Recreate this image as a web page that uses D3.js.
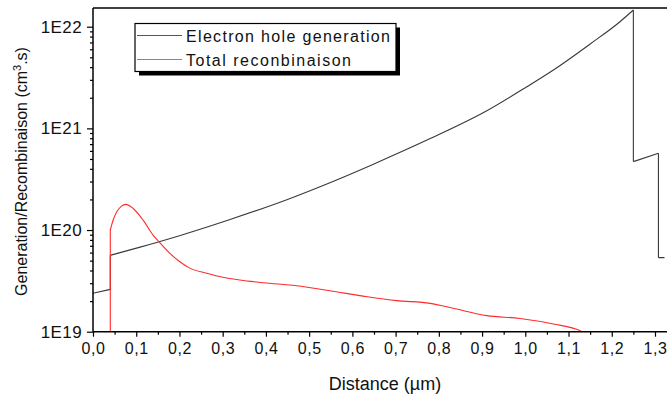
<!DOCTYPE html>
<html><head><meta charset="utf-8">
<script src="https://cdn.jsdelivr.net/npm/d3@7"></script>
<style>html,body{margin:0;padding:0;background:#fff;overflow:hidden}text{font-family:"Liberation Sans",Arial,sans-serif;fill:#111}</style>
</head><body><svg id="c" width="667" height="396"></svg>
<script>
// Data (x in µm, y in cm^-3 s^-1)
const genX = [0, 0.04, 0.04, 0.109, 0.2, 0.317, 0.45, 0.548, 0.65, 0.78, 0.911, 1.0, 1.065, 1.15, 1.219, 1.25, 1.25, 1.308, 1.308, 1.322];
const genY = [2.39e19, 2.61e19, 5.64e19, 6.79e19, 8.80e19, 1.27e20, 2.00e20, 2.92e20, 4.47e20, 7.93e20, 1.49e21, 2.51e21, 3.75e21, 6.76e21, 1.12e22, 1.46e22, 4.71e20, 5.68e20, 5.35e19, 5.35e19];
const recX = [0.04, 0.04, 0.047, 0.055, 0.066, 0.076, 0.093, 0.116, 0.139, 0.151, 0.178, 0.2, 0.224, 0.263, 0.3, 0.34, 0.394, 0.471, 0.548, 0.625, 0.702, 0.78, 0.833, 0.911, 0.988, 1.065, 1.127, 1.14];
const recY = [5e18, 1.0e20, 1.27e20, 1.51e20, 1.72e20, 1.79e20, 1.63e20, 1.25e20, 8.91e19, 7.80e19, 5.89e19, 4.90e19, 4.22e19, 3.76e19, 3.43e19, 3.22e19, 3.03e19, 2.83e19, 2.53e19, 2.24e19, 2.02e19, 1.90e19, 1.70e19, 1.44e19, 1.35e19, 1.19e19, 1.02e19, 9.5e18];
const xTicks = [0,0.1,0.2,0.3,0.4,0.5,0.6,0.7,0.8,0.9,1.0,1.1,1.2,1.3];
const yTicks = [1e19, 1e20, 1e21, 1e22];
const yTickLabels = ["1E19", "1E20", "1E21", "1E22"];
const seriesNames = ["Electron hole generation", "Total reconbinaison"];

const svg = d3.select("#c");
const L = 93, T = 8, B = 331.7, R = 676.6;
const x = d3.scaleLinear().domain([0, 1.35]).range([L, R]);
const y = d3.scaleLog().domain([1e19, Math.pow(10, 22.184)]).range([B, T]);

svg.append("clipPath").attr("id","clip").append("rect").attr("x",L).attr("y",T).attr("width",R-L).attr("height",B-T);

// split into runs of strictly increasing x; vertical jumps drawn straight, runs smoothed
function runs(xs, ys){
  const pts = xs.map((v,i)=>[v,ys[i]]);
  const out = []; let cur = [pts[0]];
  for(let i=1;i<pts.length;i++){
    if(pts[i][0] > cur[cur.length-1][0]) cur.push(pts[i]);
    else { out.push(cur); out.push([cur[cur.length-1], pts[i]]); cur = [pts[i]]; }
  }
  out.push(cur);
  return out;
}
const line = d3.line().x(d=>x(d[0])).y(d=>y(d[1])).curve(d3.curveMonotoneX);
const g = svg.append("g").attr("clip-path","url(#clip)");
g.selectAll(".gen").data(runs(genX,genY)).join("path").attr("d",line).attr("fill","none").attr("stroke","#3a3a3a").attr("stroke-width",1.1);
g.selectAll(".rec").data(runs(recX,recY)).join("path").attr("d",line).attr("fill","none").attr("stroke","#ff2a2a").attr("stroke-width",1.1);

// X axis
const xMinor = d3.range(0.05, 1.36, 0.1);
const xa = svg.append("g").attr("transform",`translate(0,${B})`);
xa.call(d3.axisBottom(x).tickValues(xTicks).tickSize(5).tickPadding(6).tickFormat(d=>d3.format(".1f")(d).replace(".",",")));
xa.selectAll("text").style("font-size","16px").style("letter-spacing","0.6px");
xa.select(".domain").remove();
svg.append("g").attr("transform",`translate(0,${B})`).call(d3.axisBottom(x).tickValues(xMinor).tickSize(3).tickFormat(""))
  .select(".domain").remove();
// Y axis
const yMinor = [];
[19,20,21,22].forEach(e=>{for(let k=2;k<=9;k++){const v=k*Math.pow(10,e); if(v<=y.domain()[1]) yMinor.push(v);}});
const ya = svg.append("g").attr("transform",`translate(${L},0)`);
ya.call(d3.axisLeft(y).tickValues(yTicks).tickSize(6).tickPadding(5).tickFormat((d,i)=>yTickLabels[i]));
ya.selectAll("text").style("font-size","17px").style("letter-spacing","0.4px");
ya.select(".domain").remove();
svg.append("g").attr("transform",`translate(${L},0)`).call(d3.axisLeft(y).tickValues(yMinor).tickSize(3).tickFormat(""))
  .select(".domain").remove();
svg.selectAll(".tick line").attr("stroke","#000").attr("stroke-width",1.2);

// frame lines
[[L,B,R,B],[L,T,R,T],[L,T,L,B],[R,T,R,B]].forEach(s=>
  svg.append("line").attr("x1",s[0]).attr("y1",s[1]).attr("x2",s[2]).attr("y2",s[3]).attr("stroke","#000").attr("stroke-width",1.5));

// Axis titles
svg.append("text").attr("x",385).attr("y",390).attr("text-anchor","middle").style("font-size","18px").text("Distance (µm)");
const yt = svg.append("text").attr("transform",`translate(27,171.5) rotate(-90)`).attr("text-anchor","middle").style("font-size","16px");
yt.append("tspan").text("Generation/Recombinaison (cm");
yt.append("tspan").attr("dy",-6).style("font-size","11px").text("3");
yt.append("tspan").attr("dy",6).text(".s)");

// Legend
const lx = 135, ly = 23.5, lw = 261, lh = 48;
svg.append("rect").attr("x",lx+4).attr("y",ly+4).attr("width",lw).attr("height",lh).attr("fill","#000");
svg.append("rect").attr("x",lx).attr("y",ly).attr("width",lw).attr("height",lh).attr("fill","#fff").attr("stroke","#000").attr("stroke-width",1.2);
const legColors = ["#555", "#ff5555"];
seriesNames.forEach((n,i)=>{
  const yy = ly + 12 + i*24;
  svg.append("line").attr("x1",lx+2).attr("x2",lx+47).attr("y1",yy).attr("y2",yy).attr("stroke",legColors[i]).attr("stroke-width",1.2);
  svg.append("text").attr("x",lx+51).attr("y",yy+6).style("font-size","16px").attr("textLength", i===0?204:165).attr("lengthAdjust","spacing").text(n);
});
</script></body></html>
